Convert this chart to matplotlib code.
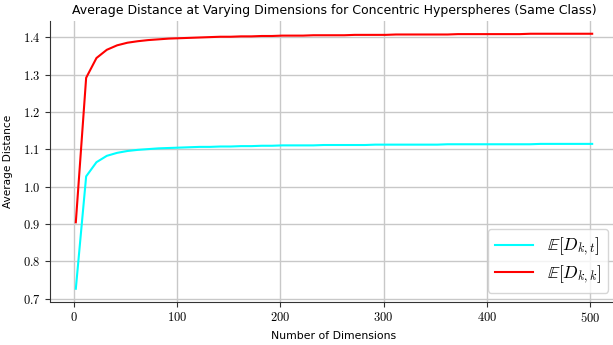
"""
Средняя дистанция для концентрических гиперсфер (один класс) при росте размерности.
"""

import matplotlib.pyplot as plt
from matplotlib.ticker import FuncFormatter

plt.rcParams["mathtext.fontset"] = "cm"

# размерности: 2, 12, ..., 502
dims = list(range(2, 503, 10))

# E[D_{k,t}] (cyan)
dist_kt = [
    0.727, 1.028, 1.066, 1.083, 1.091, 1.096, 1.099, 1.101, 1.103, 1.104,
    1.105, 1.106, 1.107, 1.107, 1.108, 1.108, 1.109, 1.109, 1.110, 1.110,
    1.111, 1.111, 1.111, 1.111, 1.112, 1.112, 1.112, 1.112, 1.112, 1.113,
    1.113, 1.113, 1.113, 1.113, 1.113, 1.113, 1.114, 1.114, 1.114, 1.114,
    1.114, 1.114, 1.114, 1.114, 1.114, 1.115, 1.115, 1.115, 1.115, 1.115,
    1.115,
]

# E[D_{k,k}] (red)
dist_kk = [
    0.905, 1.292, 1.345, 1.367, 1.379, 1.386, 1.390, 1.393, 1.395, 1.397,
    1.398, 1.399, 1.400, 1.401, 1.402, 1.402, 1.403, 1.403, 1.404, 1.404,
    1.405, 1.405, 1.405, 1.406, 1.406, 1.406, 1.406, 1.407, 1.407, 1.407,
    1.407, 1.408, 1.408, 1.408, 1.408, 1.408, 1.408, 1.409, 1.409, 1.409,
    1.409, 1.409, 1.409, 1.409, 1.410, 1.410, 1.410, 1.410, 1.410, 1.410,
    1.410,
]

W, H = 613, 345
fig = plt.figure(figsize=(W / 100, H / 100), dpi=100)
# правый край осей чуть выходит за картинку, как в оригинале
ax = fig.add_axes([50 / W, 1 - 301.5 / H, 568 / W, 280.5 / H])

ax.plot(dims, dist_kt, color="cyan", lw=1.5, label=r"$\mathbb{E}[D_{k,t}]$")
ax.plot(dims, dist_kk, color="red", lw=1.5, label=r"$\mathbb{E}[D_{k,k}]$")

ax.set_xticks([0, 100, 200, 300, 400, 500])
ax.set_yticks([0.7, 0.8, 0.9, 1.0, 1.1, 1.2, 1.3, 1.4])
ax.xaxis.set_major_formatter(FuncFormatter(lambda v, p: f"${v:.0f}$"))
ax.yaxis.set_major_formatter(FuncFormatter(lambda v, p: f"${v:.1f}$"))
ax.tick_params(labelsize=9, length=3.5, color="#333333")
ax.grid(True, color="#c8c8c8", lw=1.0)
ax.set_axisbelow(True)
for s in ("top", "right"):
    ax.spines[s].set_visible(False)
for s in ("left", "bottom"):
    ax.spines[s].set_color("#333333")

ax.set_title("Average Distance at Varying Dimensions for Concentric Hyperspheres (Same Class)",
             fontsize=9.0, pad=5)
ax.set_xlabel("Number of Dimensions", fontsize=7.8, labelpad=4)
ax.set_ylabel("Average Distance", fontsize=7.6, labelpad=7)

ax.legend(loc="lower right", fontsize=12.5, bbox_to_anchor=(0.998, 0.0),
          handlelength=2.2, borderpad=0.4, labelspacing=0.3)

fig.savefig("out.png", dpi=100)
